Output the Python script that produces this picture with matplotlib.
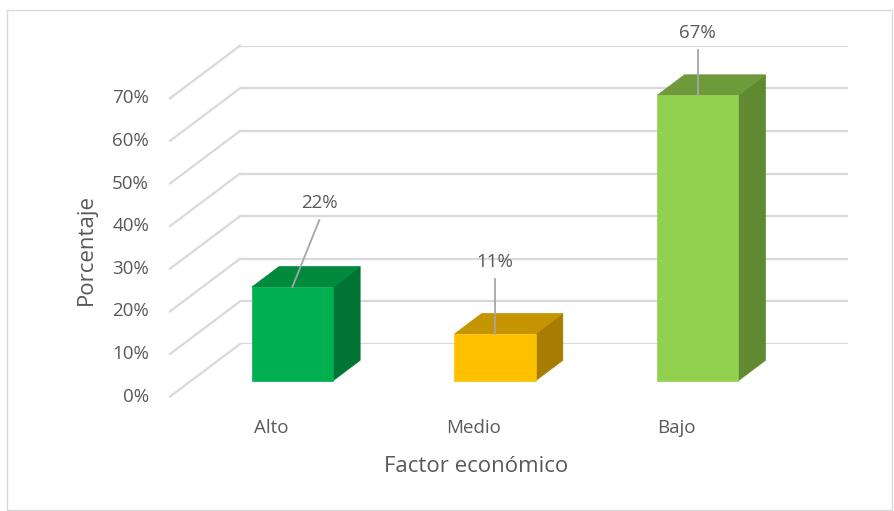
import matplotlib
matplotlib.use("Agg")
import matplotlib.pyplot as plt
from matplotlib.patches import Polygon, Rectangle
from matplotlib.transforms import IdentityTransform, ScaledTranslation

categories = ["Alto", "Medio", "Bajo"]
values = [22, 11, 67]
labels = ["22%", "11%", "67%"]
yticks = [0, 10, 20, 30, 40, 50, 60, 70]

FRONT = ["#00B050", "#FFC000", "#92D050"]
TOP = ["#008A3E", "#C49500", "#6E9A3C"]
SIDE = ["#007533", "#A67D00", "#5F8A32"]
GRID = "#D9D9D9"
TXT = "#595959"

W, H, DPI = 894, 511, 100
DX, DY = -70, -52.6          # full floor depth, display px (back -> front)
D_FRONT, D_BACK = 0.70, 0.31  # bar depth band
BW = 0.4
LEADERS = [(27, 67), (0, 55), (0, 45)]  # label leader offsets, px

plt.rcParams["font.family"] = ["Open Sans", "DejaVu Sans"]
fig = plt.figure(figsize=(W / DPI, H / DPI), dpi=DPI)
# axes = back wall of the 3-D box
ax = fig.add_axes([240 / W, (H - 344) / H, 608 / W, 298.3 / H])
ax.set_xlim(-0.5, 2.5); ax.set_ylim(0, 70)
ax.axis("off")
ident = IdentityTransform()


def proj(x, y, d):
    px, py = ax.transData.transform((x, y))
    return (px + DX * d, py + DY * d)


def shift(dx, dy):
    return ax.transData + ScaledTranslation(dx / DPI, dy / DPI, fig.dpi_scale_trans)


fig.add_artist(Rectangle((7 / W, 1 / H), 885 / W, (H - 11) / H, transform=fig.transFigure,
                         fill=False, ec=GRID, lw=1))

# gridlines: back wall + left wall diagonals, tick labels at the front
for v in yticks:
    ax.plot([-0.5, 2.5], [v, v], color=GRID, lw=1.6, zorder=1)
    p0, p1 = proj(-0.5, v, 0), proj(-0.5, v, 1)
    fig.add_artist(plt.Line2D([p0[0], p1[0]], [p0[1], p1[1]], transform=ident, color=GRID, lw=1.6))
    ax.text(-0.5, v, f"{v}%", transform=shift(DX - 21, DY), ha="right", va="center",
            fontsize=13.5, color=TXT, clip_on=False)

# bars
for i, (v, lab) in enumerate(zip(values, labels)):
    x0, x1 = i - BW / 2, i + BW / 2
    front = [proj(x0, 0, D_FRONT), proj(x1, 0, D_FRONT), proj(x1, v, D_FRONT), proj(x0, v, D_FRONT)]
    top = [proj(x0, v, D_FRONT), proj(x1, v, D_FRONT), proj(x1, v, D_BACK), proj(x0, v, D_BACK)]
    side = [proj(x1, 0, D_FRONT), proj(x1, 0, D_BACK), proj(x1, v, D_BACK), proj(x1, v, D_FRONT)]
    for pts, c in ((side, SIDE[i]), (top, TOP[i]), (front, FRONT[i])):
        fig.add_artist(Polygon(pts, closed=True, transform=ident, fc=c, ec=c, lw=0.5))
    # label with leader line
    bx, by = proj(i, v, D_FRONT)
    lx, ly = bx + LEADERS[i][0], by + LEADERS[i][1]
    fig.add_artist(plt.Line2D([bx, lx], [by, ly], transform=ident, color="#A6A6A6", lw=1.3))
    fig.text(lx / W, (ly + 17) / H, lab, ha="center", va="center", fontsize=13.5, color=TXT)

# category labels at the front floor edge
for i, c in enumerate(categories):
    ax.text(i, 0, c, transform=shift(DX, DY - 31), ha="center", va="center",
            fontsize=13.5, color=TXT, clip_on=False)

fig.text(476 / W, (H - 466) / H, "Factor económico", ha="center", va="center", fontsize=16, color=TXT)
fig.text(86 / W, (H - 249) / H, "Porcentaje", ha="center", va="center", rotation=90,
         fontsize=16, color=TXT)

fig.savefig("out.png", dpi=DPI)
